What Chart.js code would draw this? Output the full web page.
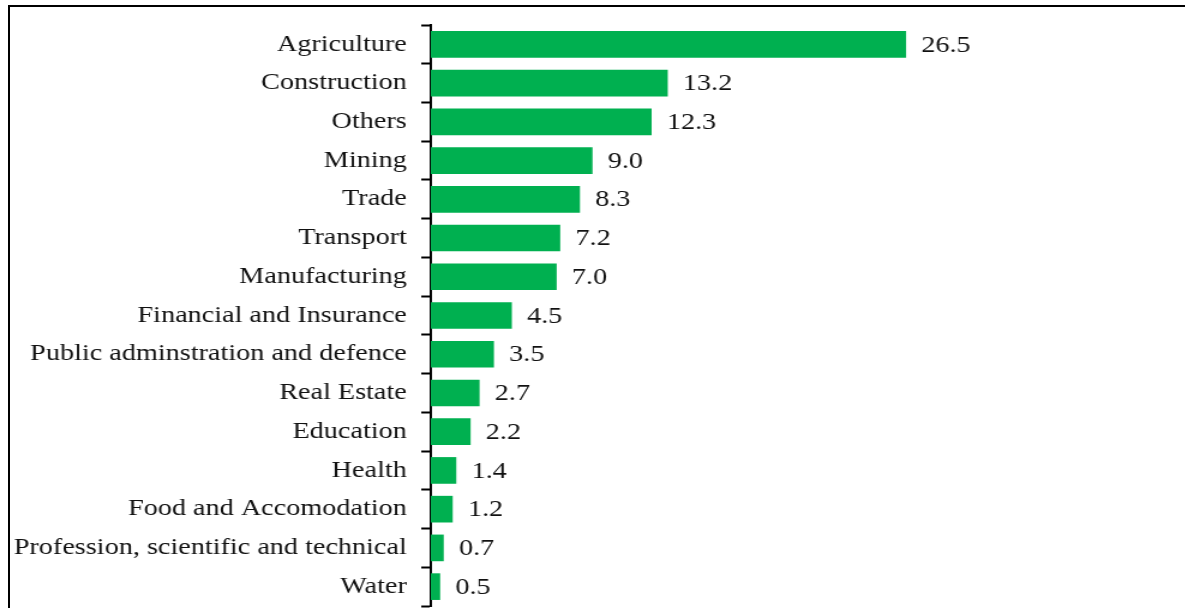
<!DOCTYPE html>
<html>
<head>
<meta charset="utf-8">
<script src="https://cdn.jsdelivr.net/npm/chart.js@4/dist/chart.umd.min.js"></script>
<style>
    html, body { margin: 0; padding: 0; background: #fff; overflow: hidden; }
    #frame {
        position: absolute; left: 8px; top: 5px; right: 0; bottom: 0;
        border-left: 2px solid #000; border-top: 2px solid #000;
    }
    /* the chart is laid out narrow and widened to the full page */
    #wrap {
        position: absolute; left: 0; top: 0;
        width: 988px; height: 608px;
        transform: scaleX(1.2); transform-origin: 0 0;
    }
</style>
</head>
<body>
<div id="frame"></div>
<div id="wrap"><canvas id="sector-chart"></canvas></div>
<script>
const sectors = [
    'Agriculture', 'Construction', 'Others', 'Mining', 'Trade', 'Transport',
    'Manufacturing', 'Financial and Insurance', 'Public adminstration and defence',
    'Real Estate', 'Education', 'Health', 'Food and Accomodation',
    'Profession, scientific and technical', 'Water'
];
const shares = [26.5, 13.2, 12.3, 9.0, 8.3, 7.2, 7.0, 4.5, 3.5, 2.7, 2.2, 1.4, 1.2, 0.7, 0.5];

const labelFont = { family: '"Liberation Serif", "Times New Roman", serif', size: 23.5 };

// writes the value just past the end of each bar
const valueLabels = {
    id: 'valueLabels',
    afterDatasetsDraw(chart) {
        const ctx = chart.ctx;
        const meta = chart.getDatasetMeta(0);
        ctx.save();
        ctx.font = `${labelFont.size}px ${labelFont.family}`;
        ctx.fillStyle = '#111';
        ctx.textAlign = 'left';
        ctx.textBaseline = 'middle';
        meta.data.forEach((bar, i) => {
            ctx.fillText(shares[i].toFixed(1), bar.x + 13, bar.y + 1);
        });
        ctx.restore();
    }
};

function drawChart() {
    const ctx = document.querySelector('#sector-chart').getContext('2d');
    new Chart(ctx, {
        type: 'bar',
        data: {
            labels: sectors,
            datasets: [{
                data: shares,
                backgroundColor: '#00b050',
                borderWidth: 0,
                barThickness: 26
            }]
        },
        options: {
            indexAxis: 'y',
            responsive: true,
            maintainAspectRatio: false,
            animation: false,
            layout: { padding: { top: 25, bottom: 2, left: 0, right: 181 } },
            plugins: {
                legend: { display: false },
                tooltip: { enabled: false }
            },
            scales: {
                x: {
                    display: false,
                    min: 0,
                    max: 30
                },
                y: {
                    afterFit(scale) {
                        scale.width = 359;
                        scale.paddingTop = 0;
                        scale.paddingBottom = 0;
                    },
                    border: { display: true, color: '#000', width: 2 },
                    grid: {
                        drawOnChartArea: false,
                        drawTicks: true,
                        tickLength: 8,
                        tickWidth: 2,
                        tickColor: '#000',
                        offset: true
                    },
                    ticks: {
                        color: '#111',
                        font: labelFont,
                        padding: 12,
                        autoSkip: false
                    }
                }
            }
        },
        plugins: [valueLabels]
    });
}

document.fonts.load('23px "Liberation Serif"').then(drawChart, drawChart);
</script>
</body>
</html>
